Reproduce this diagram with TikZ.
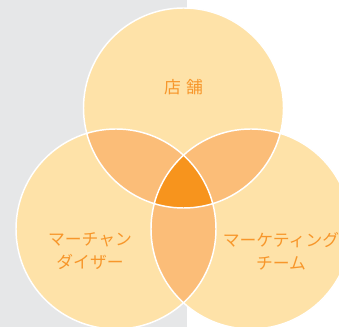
\documentclass[tikz,border=0pt]{standalone}
\usepackage{fontspec}
\newfontfamily\jpfont{Noto Sans CJK JP}
\usetikzlibrary{positioning}
\definecolor{venlight}{HTML}{FEE2A8}
\definecolor{venmid}{HTML}{FBBD78}
\definecolor{vendark}{HTML}{F7941D}
\definecolor{ventext}{HTML}{F7962A}
\definecolor{bggray}{HTML}{E6E7E8}

\begin{document}
\begin{tikzpicture}[x=0.75pt, y=-0.75pt, every node/.style={font=\jpfont\fontsize{12.6}{17.5}\selectfont, text=ventext, align=center, inner sep=0pt}]
        \useasboundingbox (0,0) rectangle (339,327);
        \fill[bggray] (0,0) rectangle (187,327);
        % circle centres
        \coordinate (shop) at (183.5,108);
        \coordinate (md) at (116,229);
        \coordinate (mkt) at (251,229);
        % single circles
        \fill[venlight] (shop) circle[radius=75pt];
        \fill[venlight] (md) circle[radius=75pt];
        \fill[venlight] (mkt) circle[radius=75pt];
        % pairwise overlaps
        \begin{scope}
            \clip (shop) circle[radius=75pt];
            \fill[venmid] (md) circle[radius=75pt];
            \fill[venmid] (mkt) circle[radius=75pt];
        \end{scope}
        \begin{scope}
            \clip (md) circle[radius=75pt];
            \fill[venmid] (mkt) circle[radius=75pt];
        \end{scope}
        % triple overlap
        \begin{scope}
            \clip (shop) circle[radius=75pt];
            \clip (md) circle[radius=75pt];
            \fill[vendark] (mkt) circle[radius=75pt];
        \end{scope}
        % outlines
        \draw[white, line width=1.1pt] (shop) circle[radius=75pt];
        \draw[white, line width=1.1pt] (md) circle[radius=75pt];
        \draw[white, line width=1.1pt] (mkt) circle[radius=75pt];
        % labels
        \node (shoplbl) at (183.5,87) {店\hspace{0.3em}舗};
        \node (mdlbl) at (90,251) {マーチャン\\ダイザー};
        \node (mktlbl) at (281,251) {マーケティング\\チーム};
    \end{tikzpicture}
\end{document}
